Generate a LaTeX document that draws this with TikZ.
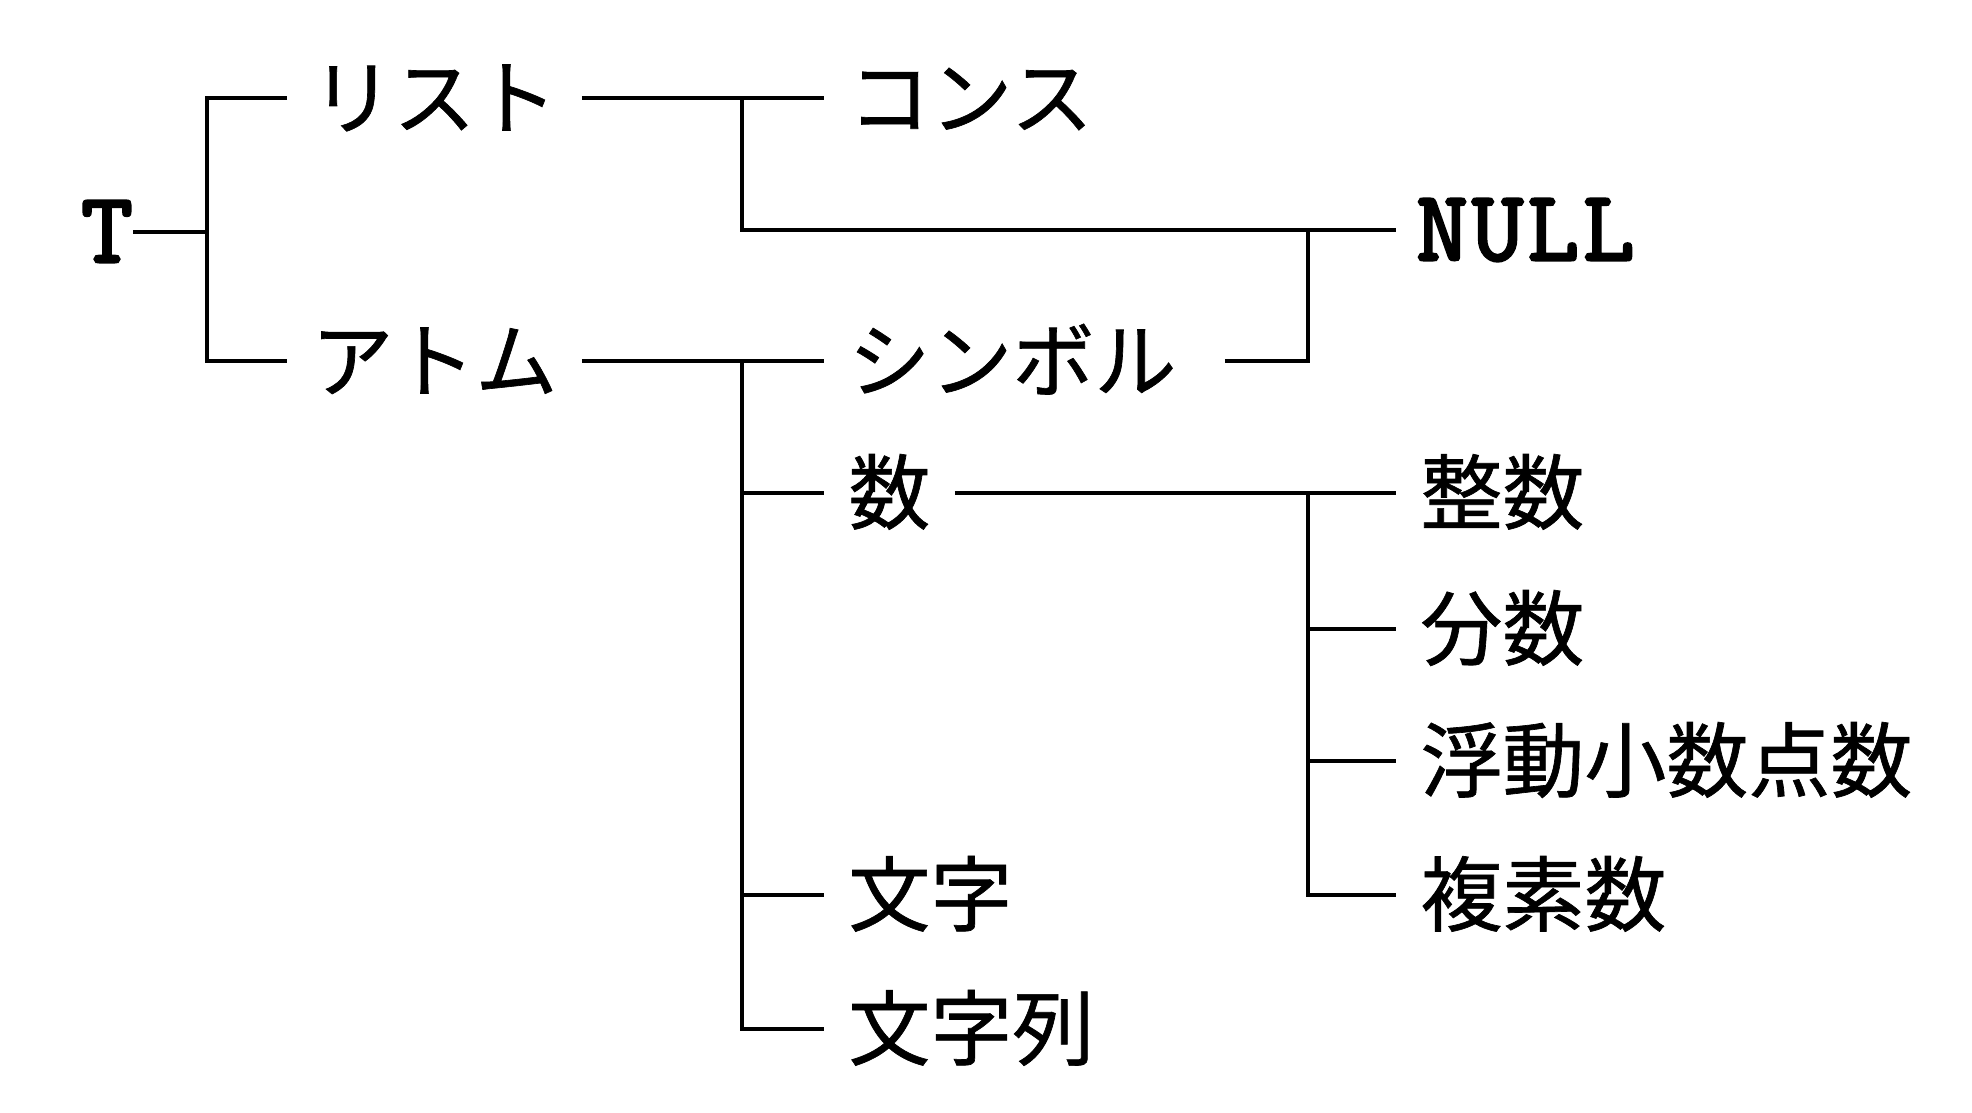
\documentclass[tikz,border=0pt]{standalone}
\usepackage{fontspec}
\newfontfamily\jpfont{Noto Sans CJK JP}[FakeBold=0.8]
\newfontfamily\ttfont{Latin Modern Mono}[FakeBold=3, LetterSpace=4]
\tikzset{
  jpnode/.style={font=\jpfont\fontsize{41pt}{41pt}\selectfont, inner xsep=12pt, inner ysep=0pt, text height=34pt, text depth=4pt, anchor=west},
  ttnode/.style={font=\ttfont\fontsize{50pt}{50pt}\selectfont, inner ysep=0pt, text height=30pt, text depth=0pt},
  conn/.style={line width=2.3pt, line join=miter},
}
\begin{document}
\begin{tikzpicture}[x=0.5pt,y=-0.5pt]
\fill[white] (0,0) rectangle (1972,1113);
\useasboundingbox (0,0) rectangle (1972,1113);
% junction columns
\coordinate (v1) at (207,0);
\coordinate (v2) at (742,0);
\coordinate (v3) at (1308,0);
% nodes
\node[ttnode, inner xsep=0pt, anchor=center] (T) at (107,232) {T};
\node[jpnode] (list) at (287,98) {リスト};
\node[jpnode] (atom) at (287,361) {アトム};
\node[jpnode] (cons) at (824,98) {コンス};
\node[ttnode, inner xsep=10pt, anchor=west] (null) at (1396,230) {NULL};
\node[jpnode] (symbol) at (824,361) {シンボル};
\node[jpnode] (num) at (824,493) {数};
\node[jpnode] (char) at (824,895) {文字};
\node[jpnode] (string) at (824,1029) {文字列};
\node[jpnode] (int) at (1396,493) {整数};
\node[jpnode] (frac) at (1396,629) {分数};
\node[jpnode] (float) at (1396,761) {浮動小数点数};
\node[jpnode] (complex) at (1396,895) {複素数};
% connectors
\draw[conn] (T.east) -- (T.east -| v1);
\draw[conn] (list.west) -- (list.west -| v1) -- (atom.west -| v1) -- (atom.west);
\draw[conn] (list.east) -- (cons.west);
\draw[conn] (cons.west -| v2) -- (null.west -| v2) -- (null.west);
\draw[conn] (atom.east) -- (symbol.west);
\draw[conn] (symbol.west -| v2) -- (string.west -| v2) -- (string.west);
\draw[conn] (num.west -| v2) -- (num.west);
\draw[conn] (char.west -| v2) -- (char.west);
\draw[conn] ([xshift=12pt]symbol.east) -- (symbol.east -| v3) -- (null.west -| v3);
\draw[conn] (num.east) -- (int.west);
\draw[conn] (int.west -| v3) -- (complex.west -| v3) -- (complex.west);
\draw[conn] (frac.west -| v3) -- (frac.west);
\draw[conn] (float.west -| v3) -- (float.west);
\end{tikzpicture}
\end{document}
